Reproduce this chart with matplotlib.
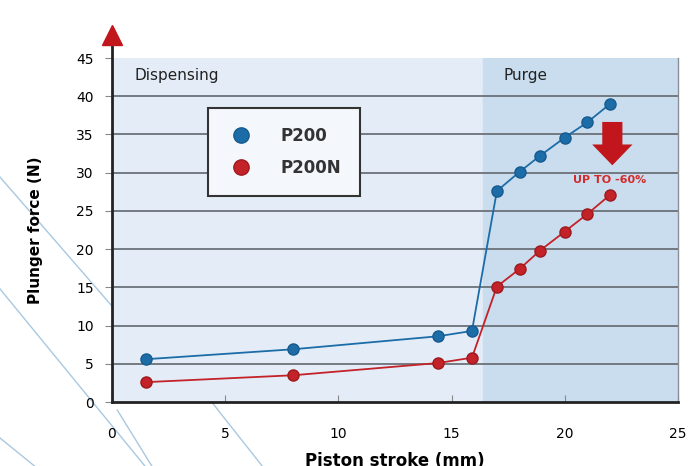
import matplotlib.pyplot as plt
from matplotlib.lines import Line2D

plt.rcParams['font.family'] = ['Liberation Sans Narrow', 'DejaVu Sans']

# piston stroke (mm) and plunger force (N)
stroke = [1.5, 8.0, 14.4, 15.9, 17.0, 18.0, 18.9, 20.0, 21.0, 22.0]
p200 = [5.6, 6.9, 8.6, 9.3, 27.6, 30.1, 32.2, 34.6, 36.6, 39.0]
p200n = [2.6, 3.5, 5.1, 5.8, 15.1, 17.4, 19.8, 22.3, 24.6, 27.1]

purge_start = 16.4
xticks = [0, 5, 10, 15, 20, 25]
yticks = [0, 5, 10, 15, 20, 25, 30, 35, 40, 45]

blue = '#1c6ca8'
red = '#c22228'

fig = plt.figure(figsize=(6.9, 4.66), dpi=100)
ax = fig.add_axes([0.1623, 0.1373, 0.8203, 0.7382])

# decorative background swooshes
for (x0, y0, x1, y1) in [(0.0, 0.62, 0.17, 0.33), (0.0, 0.38, 0.21, 0.0),
                         (0.0, 0.06, 0.05, 0.0), (0.30, 0.15, 0.38, 0.0),
                         (0.17, 0.12, 0.22, 0.0)]:
    fig.add_artist(Line2D([x0, x1], [y0, y1], color='#a9c8df', lw=1.0,
                          transform=fig.transFigure, zorder=0))

ax.set_xlim(0, 25)
ax.set_ylim(0, 45)
ax.set_facecolor('none')
ax.axvspan(0, purge_start, color='#e4edf7', zorder=0)
ax.axvspan(purge_start, 25, color='#c9ddef', zorder=0)

for y in yticks[1:-1]:
    ax.axhline(y, color='#6b7178', lw=1.3, zorder=1)

ax.plot(stroke, p200, color=blue, lw=1.3, marker='o', ms=8,
        mfc=blue, mec='#165a8e', zorder=3)
ax.plot(stroke, p200n, color=red, lw=1.3, marker='o', ms=8,
        mfc=red, mec='#9e1a1e', zorder=3)

ax.text(1.0, 42.7, 'Dispensing', fontsize=11, color='#222222', va='center')
ax.text(17.3, 42.7, 'Purge', fontsize=11, color='#222222', va='center')

# reduction arrow
ax.annotate('', xy=(22.1, 30.6), xytext=(22.1, 37.0),
            arrowprops=dict(arrowstyle='simple,head_width=2.9,head_length=1.5,tail_width=1.45',
                            mutation_scale=10, color='#c0161c', lw=0), zorder=4)
ax.text(22.0, 29.1, 'UP TO -60%', color='#d42a2a', fontsize=8,
        fontweight='bold', ha='center', va='center', zorder=4)

# legend
handles = [Line2D([], [], ls='none', marker='o', ms=11, mfc=blue, mec='#165a8e'),
           Line2D([], [], ls='none', marker='o', ms=11, mfc=red, mec='#9e1a1e')]
leg = ax.legend(handles, ['P200', 'P200N'], loc='upper left',
                bbox_to_anchor=(0.17, 0.855), fancybox=False, framealpha=1,
                edgecolor='#333333', fontsize=12, handletextpad=1.6,
                borderpad=1.15, labelspacing=0.85, borderaxespad=0,
                handlelength=1.6)
leg.get_frame().set_linewidth(1.5)
leg.get_frame().set_facecolor('#f4f8fc')
for t in leg.get_texts():
    t.set_fontweight('bold')
    t.set_color('#333333')

ax.set_xticks(xticks)
ax.set_yticks(yticks)
ax.tick_params(axis='y', length=5, color='#888888', labelsize=10, pad=8)
ax.tick_params(axis='x', direction='in', length=5, color='#888888',
               labelsize=10, pad=18)

ax.spines['top'].set_visible(False)
ax.spines['right'].set_color('#8a8f95')
ax.spines['right'].set_linewidth(1.0)
ax.spines['left'].set_linewidth(2.0)
ax.spines['left'].set_color('#222222')
ax.spines['left'].set_bounds(0, 47.5)
ax.spines['bottom'].set_linewidth(2.0)
ax.spines['bottom'].set_color('#222222')

# red arrow head on top of y axis
ax.plot([0], [48.0], marker='^', ms=14, color='#c0161c', clip_on=False, zorder=5)

ax.set_ylabel('Plunger force (N)', fontsize=11, fontweight='bold', labelpad=24)
ax.set_xlabel('Piston stroke (mm)', fontsize=12, fontweight='bold', labelpad=8)

fig.savefig('out.png', dpi=100)
